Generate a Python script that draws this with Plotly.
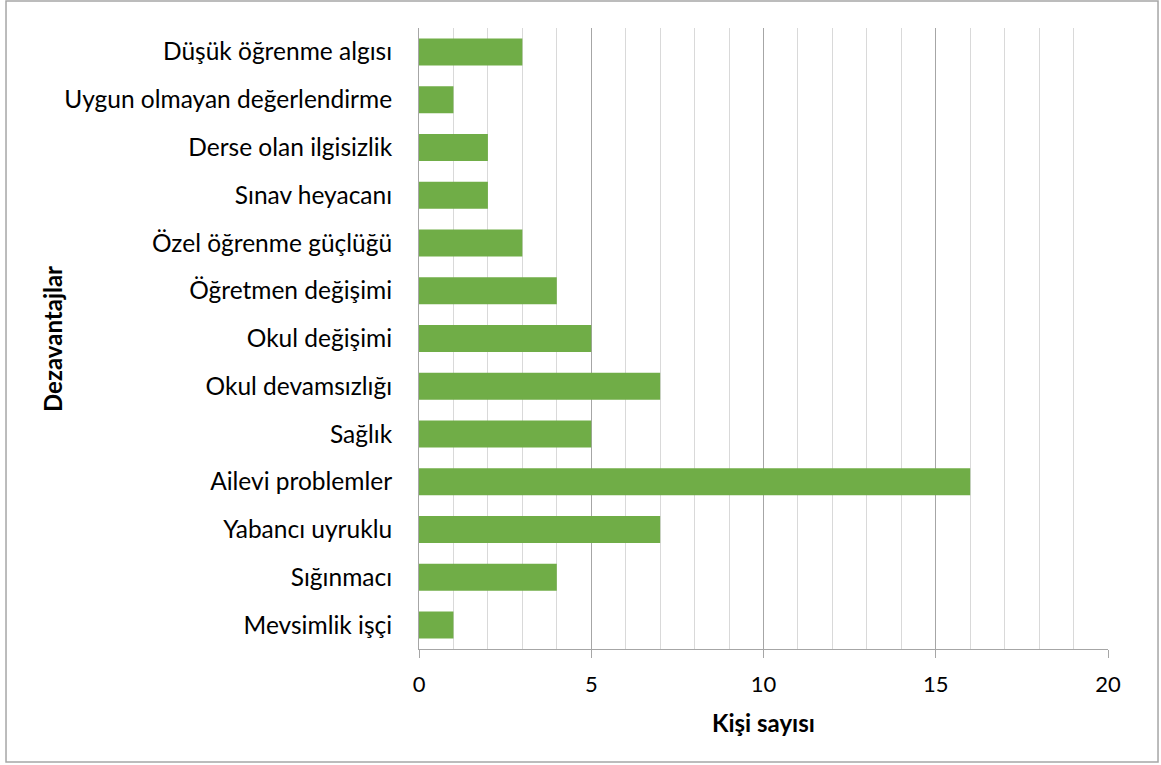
import plotly.graph_objects as go

# kategoriler (yukarıdan aşağıya)
kategoriler = [
    "Düşük öğrenme algısı",
    "Uygun olmayan değerlendirme",
    "Derse olan ilgisizlik",
    "Sınav heyacanı",
    "Özel öğrenme güçlüğü",
    "Öğretmen değişimi",
    "Okul değişimi",
    "Okul devamsızlığı",
    "Sağlık",
    "Ailevi problemler",
    "Yabancı uyruklu",
    "Sığınmacı",
    "Mevsimlik işçi",
]
kisi_sayisi = [3, 1, 2, 2, 3, 4, 5, 7, 5, 16, 7, 4, 1]
x_ticks = [0, 5, 10, 15, 20]

FONT = "Lato"

fig = go.Figure()
fig.add_trace(
    go.Bar(
        x=kisi_sayisi,
        y=kategoriler,
        orientation="h",
        marker=dict(color="#70AD47", line=dict(width=0)),
    )
)

fig.update_layout(
    width=1161,
    height=765,
    margin=dict(l=419, r=53, t=28, b=116),
    paper_bgcolor="white",
    plot_bgcolor="white",
    showlegend=False,
    bargap=0.435,
    font=dict(family=FONT, size=24, color="black"),
    xaxis=dict(
        range=[0, 20],
        tickvals=x_ticks,
        ticktext=[str(v) for v in x_ticks],
        showgrid=True,
        gridcolor="#a6a6a6",
        gridwidth=1,
        minor=dict(dtick=1, showgrid=True, gridcolor="#d9d9d9", gridwidth=1),
        showline=True,
        linecolor="#a6a6a6",
        ticks="outside",
        ticklen=8,
        tickcolor="#a6a6a6",
        ticklabelstandoff=8,
        zeroline=False,
        tickfont=dict(size=22, family=FONT),
        fixedrange=True,
    ),
    yaxis=dict(
        categoryorder="array",
        categoryarray=kategoriler[::-1],
        showline=True,
        linecolor="#a6a6a6",
        showgrid=False,
        ticks="",
        ticklabelstandoff=21,
        tickfont=dict(size=24.5, family=FONT),
        fixedrange=True,
    ),
    annotations=[
        dict(
            text="<b>Kişi sayısı</b>",
            xref="paper", yref="paper",
            x=0.5, y=-0.1445,
            showarrow=False,
            font=dict(size=24, family=FONT),
        ),
        dict(
            text="<b>Dezavantajlar</b>",
            xref="paper", yref="paper",
            x=-0.5559, y=0.5,
            textangle=-90,
            showarrow=False,
            font=dict(size=24, family=FONT),
        ),
    ],
    shapes=[
        dict(
            type="rect",
            xref="paper", yref="paper",
            x0=-0.5994, x1=1.0726, y0=-0.182, y1=1.0435,
            line=dict(color="#a6a6a6", width=1.5),
            fillcolor="rgba(0,0,0,0)",
        )
    ],
)

fig.write_html(
    "out.html",
    config={"displayModeBar": False},
    post_script="document.body.style.margin='0';",
)
